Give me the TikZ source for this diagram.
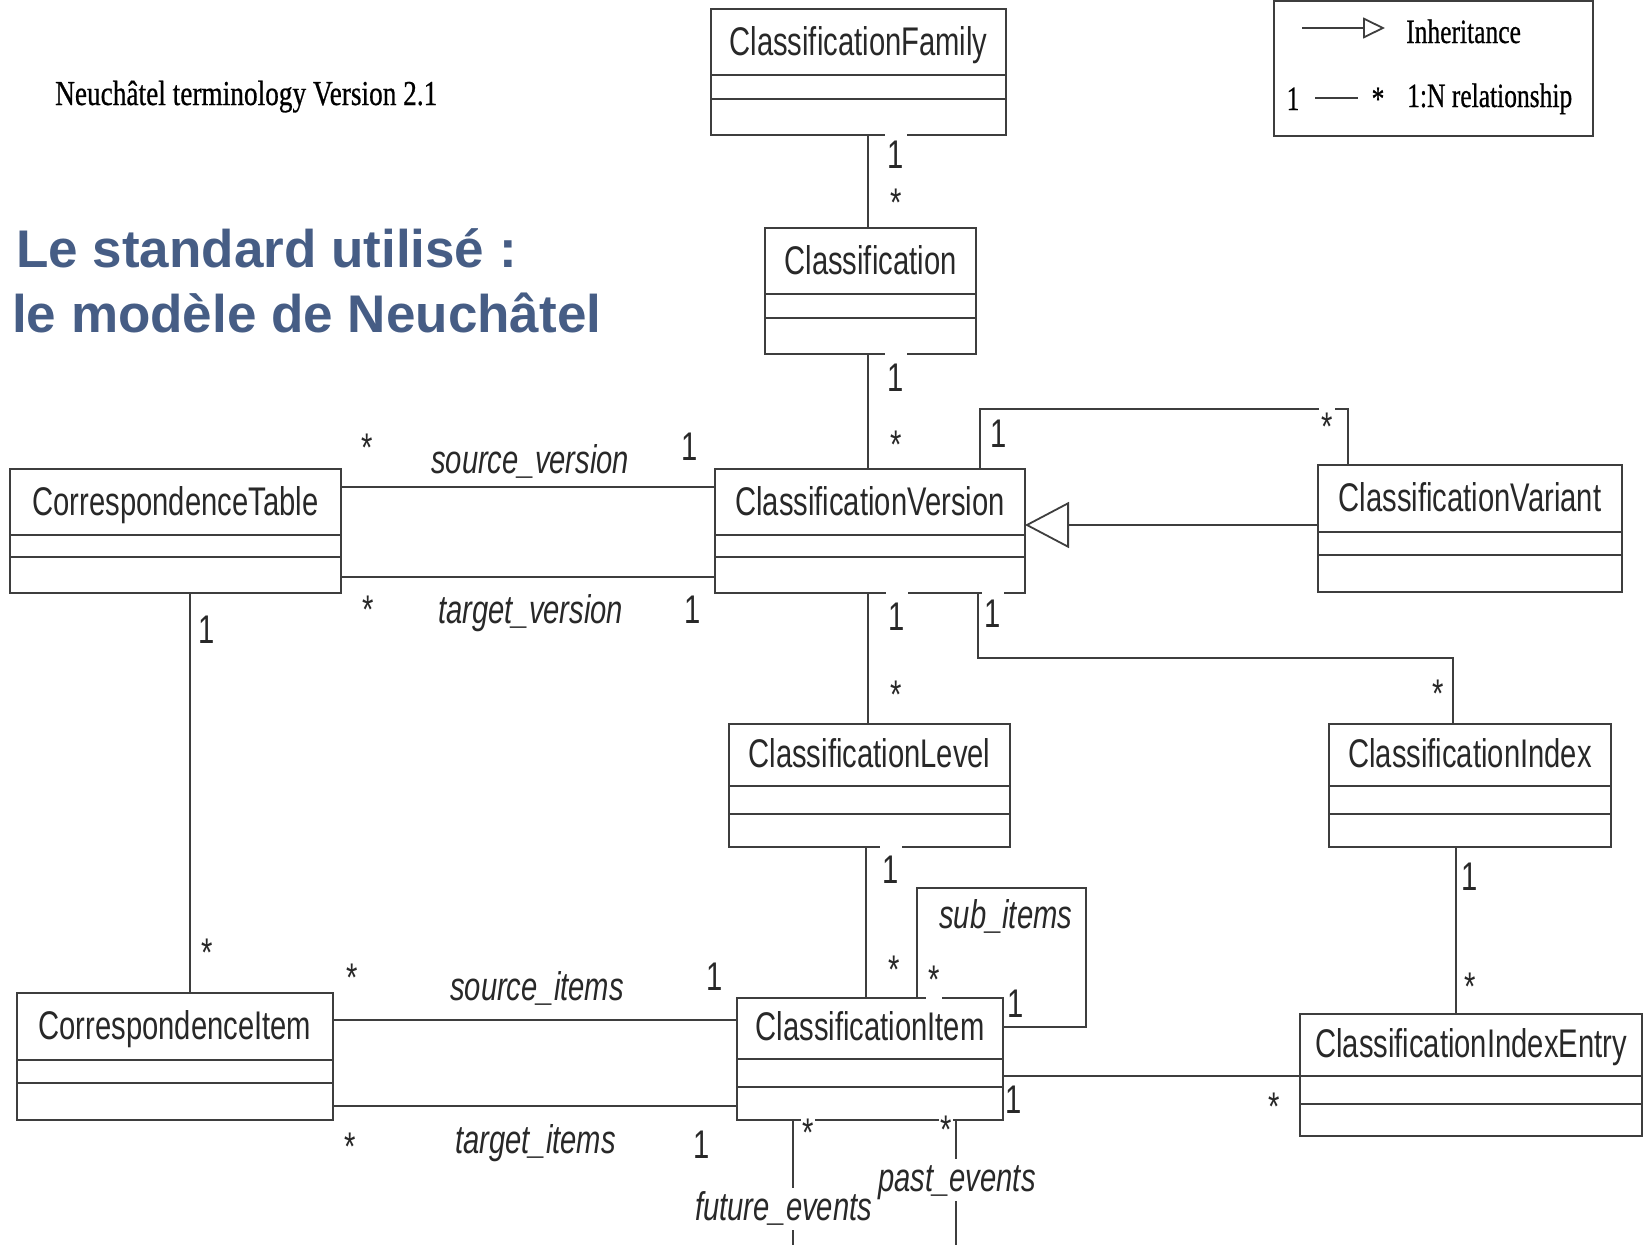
\documentclass[tikz,border=0pt]{standalone}
\usepackage{fontspec}
\setmainfont{Liberation Serif}
\newfontfamily\umlfont{Liberation Sans}[FakeStretch=0.73]
\newfontfamily\legfont{Liberation Serif}[FakeStretch=0.75,FakeBold=0.6]
\newfontfamily\titlefont{Liberation Serif}[FakeStretch=0.78,FakeBold=0.6]
\newfontfamily\headfont{Liberation Sans}
\usetikzlibrary{arrows.meta}
\definecolor{linegray}{RGB}{62,62,62}
\definecolor{textdark}{RGB}{40,40,40}
\definecolor{headblue}{RGB}{70,93,133}
% #1 name, #2 left, #3 top, #4 right, #5 bottom, #6 first divider, #7 second divider, #8 class name
\newcommand{\umlclass}[8]{%
  \node[umlbox, minimum width={(#4)-(#2)}, minimum height={(#5)-(#3)}] (#1) at (#2,#3) {};
  \draw[umlline] (#2,#6) -- (#4,#6);
  \draw[umlline] (#2,#7) -- (#4,#7);
  \node[classname] (#1-name) at ({(#2+#4)/2},{#3+0.7*(#6-#3)}) {#8};
}
\begin{document}
\begin{tikzpicture}[x=1pt,y=-1pt,
  umlbox/.style={draw=linegray, line width=1.8pt, rectangle, inner sep=0pt, outer sep=0pt, anchor=north west},
  umlline/.style={draw=linegray, line width=1.8pt},
  classname/.style={anchor=base, inner sep=0pt, text=textdark, font=\umlfont\fontsize{40}{48}\selectfont},
  multlabel/.style={anchor=base, fill=white, inner sep=2.5pt, text height=36pt, text depth=7pt, text=textdark, font=\umlfont\fontsize{40}{48}\selectfont},
  multplain/.style={multlabel, fill=none},
  multlow/.style={multlabel, inner sep=1pt, text depth=0pt},
  rolelabel/.style={anchor=base west, fill=white, inner sep=2pt, text height=30pt, text depth=8pt, text=textdark, font=\umlfont\itshape\fontsize{40}{48}\selectfont},
  legtext/.style={anchor=base west, inner sep=0pt, text=black, font=\legfont\fontsize{34}{40}\selectfont}
]
\useasboundingbox (0,0) rectangle (1644,1245);

% ---------- headings ----------
\node[anchor=base west, inner sep=0pt, text=black, font=\titlefont\fontsize{35}{42}\selectfont] (nt) at (55,105) {Neuchâtel terminology Version 2.1};
\node[anchor=base west, inner sep=0pt, text=headblue, font=\headfont\bfseries\fontsize{53}{60}\selectfont] (h1) at (16,267) {Le standard utilisé :};
\node[anchor=base west, inner sep=0pt, text=headblue, font=\headfont\bfseries\fontsize{53}{60}\selectfont] (h2) at (12,332) {le modèle de Neuchâtel};

% ---------- legend ----------
\node[umlbox, minimum width=319pt, minimum height=135pt] (legend) at (1274,1) {};
\coordinate (inhA) at (1302,28);
\coordinate (inhB) at (1385,28);
\draw[umlline, -{Triangle[open,length=22pt,width=21pt]}] (inhA) -- (inhB);
\node[legtext] (inhtxt) at (1406,43) {Inheritance};
\node[legtext, anchor=base] (leg1) at (1293,110) {1};
\coordinate (relA) at (1315,98);
\coordinate (relB) at (1358,98);
\draw[umlline] (relA) -- (relB);
\node[legtext, anchor=base] (legstar) at (1378,110) {*};
\node[legtext] (reltxt) at (1407,107) {1:N relationship};

% ---------- classes ----------
\umlclass{fam}{711}{9}{1006}{135}{75}{99}{ClassificationFamily}
\umlclass{cls}{765}{228}{976}{354}{294}{318}{Classification}
\umlclass{cv}{715}{469}{1025}{593}{535}{557}{ClassificationVersion}
\umlclass{ctab}{10}{469}{341}{593}{535}{557}{CorrespondenceTable}
\umlclass{var}{1318}{465}{1622}{592}{532}{555}{ClassificationVariant}
\umlclass{lvl}{729}{724}{1010}{847}{786}{814}{ClassificationLevel}
\umlclass{idx}{1329}{724}{1611}{847}{786}{814}{ClassificationIndex}
\umlclass{citem}{17}{993}{333}{1120}{1060}{1083}{CorrespondenceItem}
\umlclass{item}{737}{998}{1003}{1120}{1059}{1087}{ClassificationItem}
\umlclass{entry}{1300}{1014}{1642}{1136}{1076}{1104}{ClassificationIndexEntry}

% ---------- helper coordinates ----------
\coordinate (xa) at (868,0);
\coordinate (xb) at (866,0);
\coordinate (xloopV) at (980,0);
\coordinate (yloopV) at (0,409);
\coordinate (xvarL) at (1348,0);
\coordinate (xidx1) at (978,0);
\coordinate (yidx) at (0,658);
\coordinate (xidx2) at (1453,0);
\coordinate (yinh) at (0,525);
\coordinate (ysrcv) at (0,487);
\coordinate (ytgtv) at (0,577);
\coordinate (xcorr) at (190,0);
\coordinate (xentry) at (1456,0);
\coordinate (ysrci) at (0,1020);
\coordinate (ytgti) at (0,1106);
\coordinate (xsub1) at (917,0);
\coordinate (ysubT) at (0,888);
\coordinate (xsub2) at (1086,0);
\coordinate (ysubB) at (0,1027);
\coordinate (yie) at (0,1076);
\coordinate (futEnd) at (793,1245);
\coordinate (pastEnd) at (956,1245);

% ---------- connectors ----------
\draw[umlline] (fam.south -| xa) -- (cls.north -| xa);
\draw[umlline] (cls.south -| xa) -- (cv.north -| xa);
\draw[umlline] (cv.south -| xa) -- (lvl.north -| xa);
\draw[umlline] (lvl.south -| xb) -- (item.north -| xb);
\draw[umlline] (cv.north -| xloopV) |- (yloopV -| xvarL) -- (var.north -| xvarL);
\draw[umlline] (cv.south -| xidx1) |- (yidx -| xidx2) -- (idx.north -| xidx2);
\draw[umlline, -{Triangle[open,length=44pt,width=46pt]}] (var.west |- yinh) -- (cv.east |- yinh);
\draw[umlline] (ctab.east |- ysrcv) -- (cv.west |- ysrcv);
\draw[umlline] (ctab.east |- ytgtv) -- (cv.west |- ytgtv);
\draw[umlline] (ctab.south -| xcorr) -- (citem.north -| xcorr);
\draw[umlline] (idx.south -| xentry) -- (entry.north -| xentry);
\draw[umlline] (citem.east |- ysrci) -- (item.west |- ysrci);
\draw[umlline] (citem.east |- ytgti) -- (item.west |- ytgti);
\draw[umlline] (item.north -| xsub1) |- (ysubT -| xsub2) |- (item.east |- ysubB);
\draw[umlline] (item.east |- yie) -- (entry.west |- yie);
\draw[umlline] (item.south -| futEnd) -- (futEnd);
\draw[umlline] (item.south -| pastEnd) -- (pastEnd);

% ---------- multiplicities ----------
\node[multlabel] (m1) at (896,168) {1};
\node[multlabel] (m2) at (896,216) {*};
\node[multlabel] (m3) at (896,391) {1};
\node[multlabel] (m4) at (896,458) {*};
\node[multplain] (m5) at (999,447) {1};
\node[multlabel] (m6) at (1327,440) {*};
\node[multlabel] (m7) at (367,461) {*};
\node[multlabel] (m8) at (690,460) {1};
\node[multlabel] (m9) at (368,623) {*};
\node[multlabel] (m10) at (693,623) {1};
\node[multlabel] (m11) at (897,630) {1};
\node[multlabel] (m12) at (896,708) {*};
\node[multlabel] (m13) at (993,627) {1};
\node[multlabel] (m14) at (1438,707) {*};
\node[multlabel] (m15) at (207,643) {1};
\node[multlabel] (m16) at (207,966) {*};
\node[multlabel] (m17) at (1470,890) {1};
\node[multlabel] (m18) at (1470,1000) {*};
\node[multlabel] (m19) at (891,883) {1};
\node[multlabel] (m20) at (894,983) {*};
\node[multlabel] (m21) at (934,993) {*};
\node[multplain] (m22) at (1016,1017) {1};
\node[multlabel] (m23) at (352,991) {*};
\node[multlabel] (m24) at (715,990) {1};
\node[multlabel] (m25) at (350,1160) {*};
\node[multlabel] (m26) at (702,1158) {1};
\node[multplain] (m27) at (1014,1113) {1};
\node[multlabel] (m28) at (1274,1120) {*};
\node[multlow] (m29) at (808,1146) {*};
\node[multlow] (m30) at (946,1143) {*};

% ---------- role names ----------
\node[rolelabel] (r1) at (429,473) {source\_version};
\node[rolelabel] (r2) at (436,623) {target\_version};
\node[rolelabel] (r3) at (448,1000) {source\_items};
\node[rolelabel] (r4) at (453,1153) {target\_items};
\node[rolelabel] (r5) at (937,928) {sub\_items};
\node[rolelabel] (r6) at (693,1220) {future\_events};
\node[rolelabel] (r7) at (876,1191) {past\_events};
\end{tikzpicture}
\end{document}
